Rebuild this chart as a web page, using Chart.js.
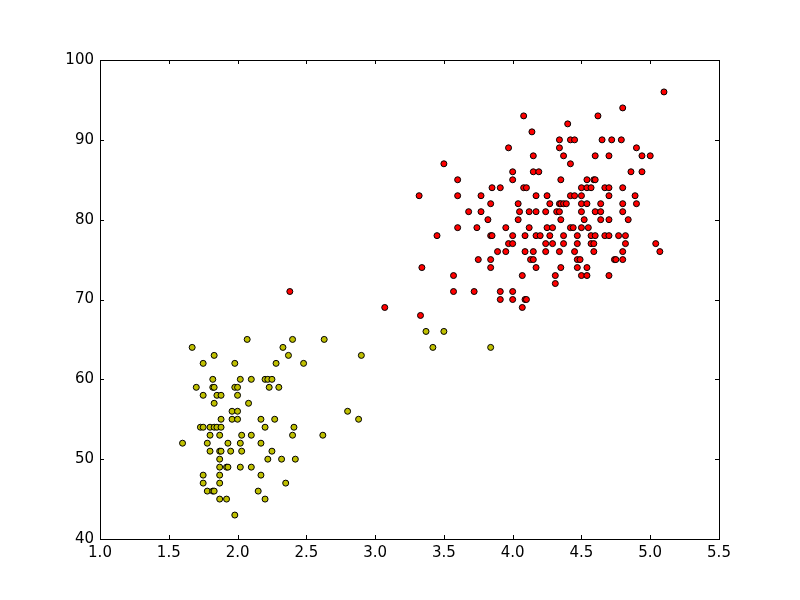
<!DOCTYPE html>
<html>
<head>
<meta charset="utf-8">
<title>Clusters</title>
<script src="https://cdn.jsdelivr.net/npm/chart.js@4.4.1/dist/chart.umd.min.js"></script>
<style>
    html, body { margin: 0; padding: 0; background: #ffffff; }
    canvas { display: block; }
</style>
</head>
<body>
<canvas id="clusterChart" width="800" height="600"></canvas>
<script>
    // eruption length (x) and waiting time (y)
    var shortEruptions = [
        1.67, 2.07, 1.83, 1.75, 1.98, 1.82, 2.02, 2.10, 1.70, 1.82,
        1.83, 1.98, 2.00, 1.75, 1.85, 1.88, 2.00, 1.83, 2.08, 1.96,
        2.00, 1.96, 2.00, 1.88, 2.17, 1.73, 1.75, 1.80, 1.83, 1.85,
        1.88, 1.80, 1.87, 2.03, 2.10, 1.60, 1.78, 1.93, 2.02, 2.17,
        1.80, 1.87, 1.88, 1.95, 2.03, 1.87, 1.87, 1.92, 1.93, 2.02,
        2.10, 1.75, 1.87, 2.17, 1.75, 1.87, 1.78, 1.82, 1.83, 2.15,
        1.87, 1.92, 1.98, 2.40, 2.63, 2.33, 2.37, 2.28, 2.48, 2.20,
        2.22, 2.25, 2.23, 2.30, 2.80, 2.27, 2.20, 2.41, 2.40, 2.62,
        2.25, 2.22, 2.32, 2.42, 2.35, 2.20, 2.90, 3.37, 3.50, 3.42,
        3.84, 2.88
    ];
    var shortWaiting = [
        64, 65, 63, 62, 62, 60, 60, 60, 59, 59,
        59, 59, 59, 58, 58, 58, 58, 57, 57, 56,
        56, 55, 55, 55, 55, 54, 54, 54, 54, 54,
        54, 53, 53, 53, 53, 52, 52, 52, 52, 52,
        51, 51, 51, 51, 51, 50, 49, 49, 49, 49,
        49, 48, 48, 48, 47, 47, 46, 46, 46, 46,
        45, 45, 43, 65, 65, 64, 63, 62, 62, 60,
        60, 60, 59, 59, 56, 55, 54, 54, 53, 53,
        51, 50, 50, 50, 47, 45, 63, 66, 66, 64,
        64, 55
    ];

    var longEruptions = [
        3.07, 3.33, 2.38, 3.57, 3.72, 3.91, 3.91,
        3.50, 3.60, 3.32, 3.60, 3.77, 3.85, 3.91, 3.84, 3.68, 3.77, 3.82, 3.60, 3.74,
        3.45, 3.84, 3.85, 3.89, 3.75, 3.84, 3.34, 3.84, 3.57,
        4.08, 4.40, 4.14, 4.34, 4.42, 4.45, 3.97, 4.34, 4.15, 4.37,
        4.42, 4.00, 4.15, 4.19, 4.00, 4.35, 4.08, 4.10, 4.17, 4.25,
        4.42, 4.45, 4.04, 4.27, 4.34, 4.35, 4.37, 4.39,
        4.05, 4.12, 4.17, 4.24, 4.32, 4.34, 4.04, 4.35,
        3.95, 4.12, 4.25, 4.29, 4.42, 4.44,
        4.00, 4.09, 4.17, 4.20, 4.27, 4.37, 4.47,
        3.97, 4.00, 4.24, 4.29, 4.37, 4.47,
        3.95, 4.09, 4.15, 4.24, 4.34, 4.45,
        4.13, 4.15, 4.47, 4.17, 4.35, 4.47,
        4.07, 4.31, 4.31, 4.00, 4.00, 4.09, 4.10, 4.07,
        5.10, 4.80, 4.62, 4.65, 4.72, 4.79, 4.90, 4.60, 4.70, 4.94,
        5.00, 4.86, 4.94, 4.54, 4.59, 4.60, 4.50, 4.54, 4.57, 4.67,
        4.70, 4.80, 4.50, 4.70, 4.89, 4.50, 4.54, 4.64, 4.80, 4.90,
        4.50, 4.60, 4.64, 4.80, 4.52, 4.64, 4.70, 4.84, 4.50, 4.55,
        4.57, 4.60, 4.67, 4.70, 4.77, 4.82, 4.57, 4.59, 4.82, 5.04,
        4.59, 4.80, 5.07, 4.49, 4.74, 4.75, 4.80, 4.54, 4.50, 4.54,
        4.70
    ];
    var longWaiting = [
        69, 68, 71, 71, 71, 71, 70,
        87, 85, 83, 83, 83, 84, 84, 82, 81, 81, 80, 79, 79,
        78, 78, 78, 76, 75, 75, 74, 74, 73,
        93, 92, 91, 90, 90, 90, 89, 89, 88, 88,
        87, 86, 86, 86, 85, 85, 84, 84, 83, 83,
        83, 83, 82, 82, 82, 82, 82, 82,
        81, 81, 81, 81, 81, 81, 80, 80,
        79, 79, 79, 79, 79, 79,
        78, 78, 78, 78, 78, 78, 78,
        77, 77, 77, 77, 77, 77,
        76, 76, 76, 76, 76, 76,
        75, 75, 75, 74, 74, 74,
        73, 73, 72, 71, 70, 70, 70, 69,
        96, 94, 93, 90, 90, 90, 89, 88, 88, 88,
        88, 86, 86, 85, 85, 85, 84, 84, 84, 84,
        84, 84, 83, 83, 83, 82, 82, 82, 82, 82,
        81, 81, 81, 81, 80, 80, 80, 80, 79, 79,
        78, 78, 78, 78, 78, 78, 77, 77, 77, 77,
        76, 76, 76, 75, 75, 75, 75, 74, 73, 73,
        73
    ];

    var xTicks = [1.0, 1.5, 2.0, 2.5, 3.0, 3.5, 4.0, 4.5, 5.0, 5.5];
    var yTicks = [40, 50, 60, 70, 80, 90, 100];

    var toPoints = function (xs, ys) {
        return xs.map(function (x, i) {
            return { x: x, y: ys[i] };
        });
    };

    // matplotlib look: black frame, ticks pointing inward on all four sides
    var framePlugin = {
        id: 'frame',
        afterDatasetsDraw: function (chart) {
            var ctx = chart.ctx;
            var area = chart.chartArea;
            var xScale = chart.scales.x;
            var yScale = chart.scales.y;
            var len = 4;

            ctx.save();
            ctx.strokeStyle = '#000000';
            ctx.lineWidth = 1;
            ctx.beginPath();
            xTicks.forEach(function (v) {
                var px = Math.round(xScale.getPixelForValue(v)) + 0.5;
                ctx.moveTo(px, area.bottom);
                ctx.lineTo(px, area.bottom - len);
                ctx.moveTo(px, area.top);
                ctx.lineTo(px, area.top + len);
            });
            yTicks.forEach(function (v) {
                var py = Math.round(yScale.getPixelForValue(v)) + 0.5;
                ctx.moveTo(area.left, py);
                ctx.lineTo(area.left + len, py);
                ctx.moveTo(area.right, py);
                ctx.lineTo(area.right - len, py);
            });
            ctx.stroke();
            ctx.strokeRect(Math.round(area.left) + 0.5, Math.round(area.top) + 0.5,
                Math.round(area.right - area.left), Math.round(area.bottom - area.top));
            ctx.restore();
        }
    };

    var tickFont = { family: '"DejaVu Sans", sans-serif', size: 15 };

    var chart = new Chart(document.getElementById('clusterChart'), {
        type: 'scatter',
        data: {
            datasets: [
                {
                    label: 'short',
                    data: toPoints(shortEruptions, shortWaiting),
                    backgroundColor: '#bfbf00',
                    borderColor: '#000000',
                    borderWidth: 1,
                    pointRadius: 3,
                    pointHoverRadius: 3
                },
                {
                    label: 'long',
                    data: toPoints(longEruptions, longWaiting),
                    backgroundColor: '#ff0000',
                    borderColor: '#000000',
                    borderWidth: 1,
                    pointRadius: 3,
                    pointHoverRadius: 3
                }
            ]
        },
        options: {
            responsive: false,
            animation: false,
            layout: {
                padding: { left: 0, top: 60, right: 81, bottom: 0 }
            },
            plugins: {
                legend: { display: false },
                tooltip: { enabled: false }
            },
            scales: {
                x: {
                    type: 'linear',
                    min: 1.0,
                    max: 5.5,
                    border: { display: false },
                    grid: { display: false, drawTicks: false },
                    afterBuildTicks: function (scale) {
                        scale.ticks = xTicks.map(function (v) { return { value: v }; });
                    },
                    afterFit: function (scale) {
                        scale.height = 61;
                    },
                    ticks: {
                        color: '#000000',
                        font: tickFont,
                        padding: 5,
                        maxRotation: 0,
                        callback: function (value) {
                            return Number(value).toFixed(1);
                        }
                    }
                },
                y: {
                    type: 'linear',
                    min: 40,
                    max: 100,
                    border: { display: false },
                    grid: { display: false, drawTicks: false },
                    afterBuildTicks: function (scale) {
                        scale.ticks = yTicks.map(function (v) { return { value: v }; });
                    },
                    afterFit: function (scale) {
                        scale.width = 100;
                    },
                    ticks: {
                        color: '#000000',
                        font: tickFont,
                        padding: 6
                    }
                }
            }
        },
        plugins: [framePlugin]
    });
</script>
</body>
</html>
